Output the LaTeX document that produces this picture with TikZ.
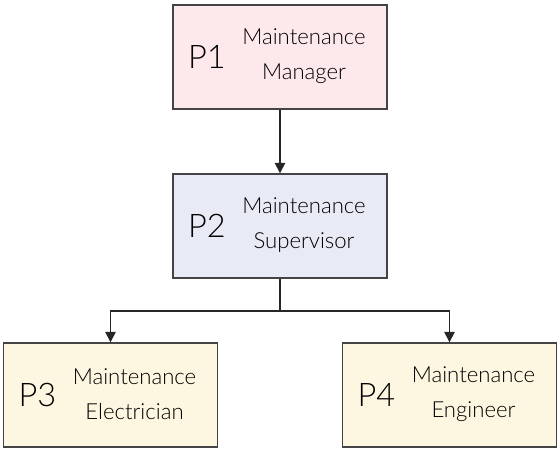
\documentclass[tikz,border=0pt]{standalone}
\usepackage{fontspec}
\setmainfont{Lato Light}
\usetikzlibrary{positioning,arrows.meta}

\definecolor{mgrpink}{RGB}{253,232,236}
\definecolor{suplav}{RGB}{232,234,246}
\definecolor{staffcream}{RGB}{253,246,224}
\definecolor{edgegray}{RGB}{68,68,68}

\begin{document}
\begin{tikzpicture}[
    post/.style={draw=edgegray, thick, minimum width=4.28cm, minimum height=2.08cm},
    tag/.style={font=\fontsize{18.5}{20}\selectfont, inner sep=0pt},
    role/.style={font=\fontsize{12.6}{20}\selectfont, align=center, inner sep=0pt},
    link/.style={-{Triangle[width=6pt,length=6pt]}, thick, black!85},
]
    \useasboundingbox (0,0) rectangle (11.14,9.02);

    % Positions
    \node[post, fill=mgrpink] (p1) at (5.6, 7.88) {};
    \node[post, fill=suplav] (p2) at (5.6, 4.5) {};
    \node[post, fill=staffcream] (p3) at (2.21, 1.12) {};
    \node[post, fill=staffcream] (p4) at (8.99, 1.12) {};

    % Labels
    \node[tag] at ([xshift=-1.46cm]p1.center) {P1};
    \node[role] at ([xshift=0.48cm,yshift=0.02cm]p1.center) {Maintenance\\Manager};
    \node[tag] at ([xshift=-1.46cm]p2.center) {P2};
    \node[role] at ([xshift=0.48cm,yshift=0.02cm]p2.center) {Maintenance\\Supervisor};
    \node[tag] at ([xshift=-1.46cm]p3.center) {P3};
    \node[role] at ([xshift=0.48cm,yshift=0.02cm]p3.center) {Maintenance\\Electrician};
    \node[tag] at ([xshift=-1.46cm]p4.center) {P4};
    \node[role] at ([xshift=0.48cm,yshift=0.02cm]p4.center) {Maintenance\\Engineer};

    % Arrows
    \coordinate (fork) at (5.6, 2.8);
    \draw[link] (p1.south) -- (p2.north);
    \draw[link] (p2.south) -- (fork) -| (p3.north);
    \draw[link] (fork) -| (p4.north);
\end{tikzpicture}
\end{document}
